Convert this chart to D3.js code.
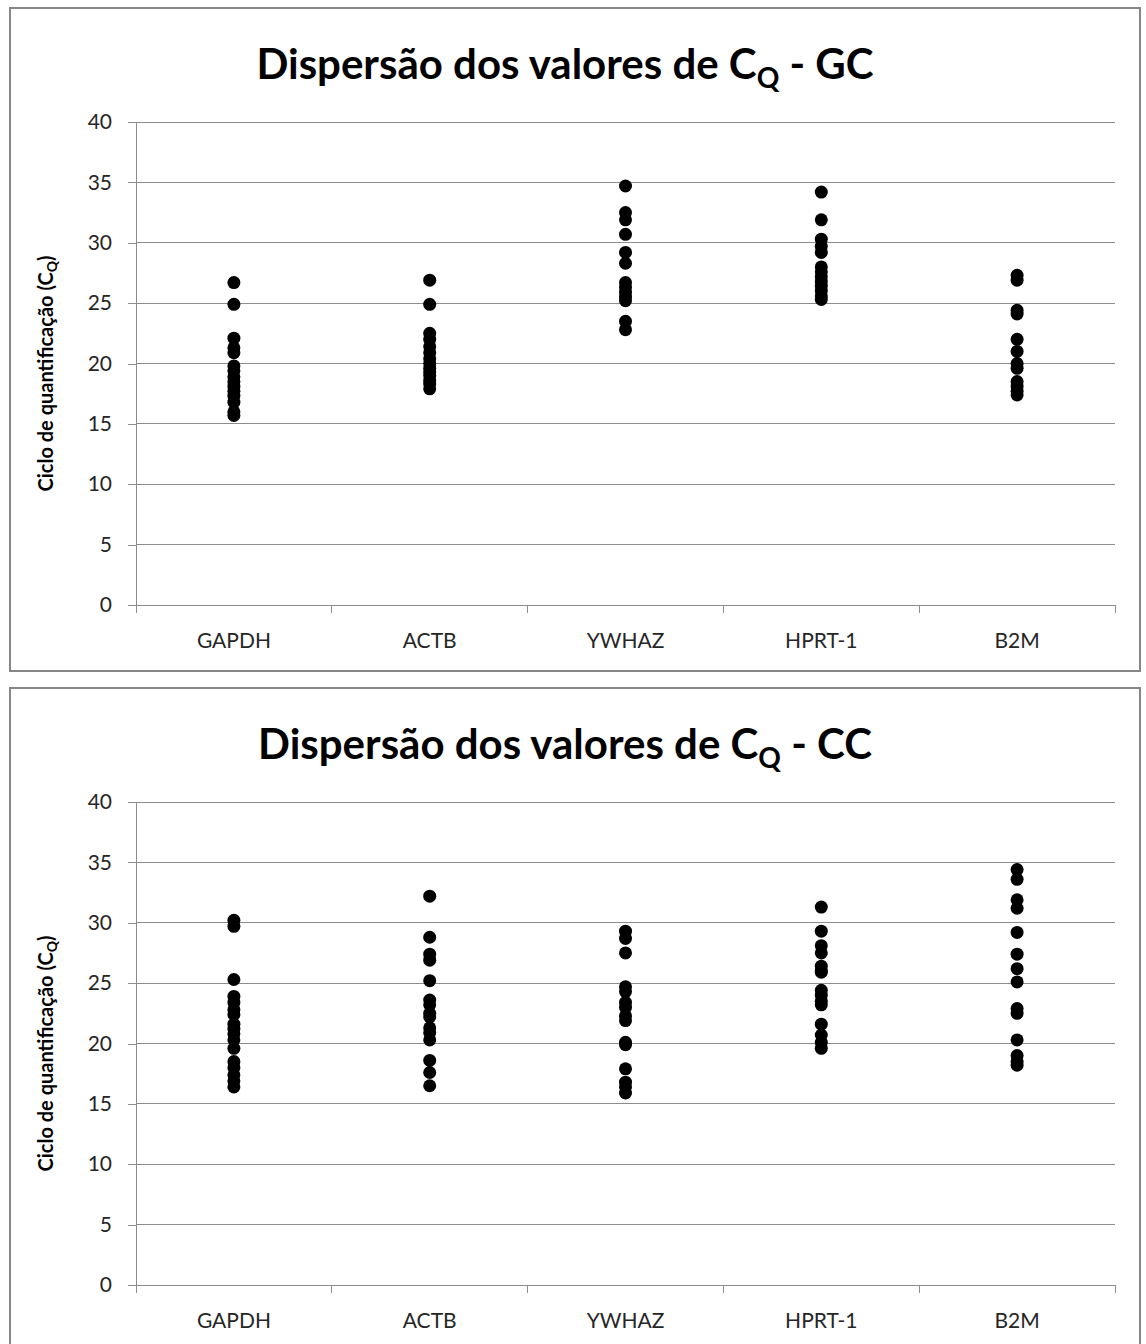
<!DOCTYPE html>
<html>
<head>
<meta charset="utf-8">
<script src="https://cdn.jsdelivr.net/npm/d3@7"></script>
<style>
  body { margin: 0; background: #fff; }
  svg { display: block; }
  text { font-family: Lato, "Open Sans", sans-serif; }
</style>
</head>
<body>
<svg id="chart" width="1146" height="1344"></svg>
<script>
// Reference genes on the x axis
const genes = ["GAPDH", "ACTB", "YWHAZ", "HPRT-1", "B2M"];
const yTicks = [0, 5, 10, 15, 20, 25, 30, 35, 40];

// Cq values, group GC
const gcGAPDH = [26.7, 24.9, 22.1, 21.3, 20.9, 19.8, 19.4, 18.9, 18.5, 18.1, 17.7, 17.3, 16.8, 16.0, 15.7];
const gcACTB  = [26.9, 24.9, 22.5, 22.0, 21.4, 20.9, 20.4, 20.0, 19.6, 19.3, 19.0, 18.6, 18.3, 17.9];
const gcYWHAZ = [34.7, 32.5, 31.9, 30.7, 29.2, 28.3, 26.7, 26.3, 25.9, 25.5, 25.2, 23.5, 22.8];
const gcHPRT1 = [34.2, 31.9, 30.3, 29.7, 29.2, 28.0, 27.6, 27.2, 26.8, 26.4, 26.0, 25.6, 25.3];
const gcB2M   = [27.3, 26.9, 24.4, 24.1, 22.0, 21.0, 20.0, 19.6, 18.5, 18.1, 17.7, 17.4];

// Cq values, group CC
const ccGAPDH = [30.2, 29.7, 25.3, 23.9, 23.4, 22.8, 22.4, 21.6, 21.2, 20.8, 20.3, 19.6, 18.5, 18.0, 17.4, 16.9, 16.4];
const ccACTB  = [32.2, 28.8, 27.4, 26.9, 25.2, 23.6, 23.2, 22.5, 22.2, 21.3, 20.9, 20.3, 18.6, 17.6, 16.5];
const ccYWHAZ = [29.3, 28.7, 27.5, 24.7, 24.3, 23.4, 23.0, 22.3, 21.9, 20.1, 19.9, 17.9, 16.8, 16.4, 15.9];
const ccHPRT1 = [31.3, 29.3, 28.1, 27.5, 26.4, 26.0, 25.9, 24.4, 24.0, 23.5, 23.2, 21.6, 20.7, 20.1, 19.6];
const ccB2M   = [34.4, 33.6, 31.9, 31.2, 29.2, 27.4, 26.2, 25.1, 22.9, 22.5, 20.3, 19.0, 18.5, 18.2];

const panels = [
  { suffix: " - GC", top: 8,   series: [gcGAPDH, gcACTB, gcYWHAZ, gcHPRT1, gcB2M] },
  { suffix: " - CC", top: 688, series: [ccGAPDH, ccACTB, ccYWHAZ, ccHPRT1, ccB2M] }
];

const svg = d3.select("#chart");
const W = 1130, H = 663;
const plot = { left: 136, right: 1115, top: 114, bottom: 597 };

panels.forEach(p => {
  const g = svg.append("g").attr("transform", `translate(10,${p.top})`);

  g.append("rect")
    .attr("x", 0).attr("y", 0).attr("width", W).attr("height", H)
    .attr("fill", "#fff").attr("stroke", "#868686").attr("stroke-width", 2);

  const x = d3.scaleBand().domain(genes).range([plot.left - 10, plot.right - 10]);
  const y = d3.scaleLinear().domain([0, 40]).range([plot.bottom, plot.top]);

  // gridlines
  g.append("g").selectAll("line").data(yTicks.filter(t => t > 0)).join("line")
    .attr("x1", plot.left - 10).attr("x2", plot.right - 10)
    .attr("y1", d => y(d)).attr("y2", d => y(d))
    .attr("stroke", "#8c8c8c").attr("stroke-width", 1).attr("shape-rendering", "crispEdges");

  // y axis
  const ya = g.append("g").attr("transform", `translate(${plot.left - 10},0)`)
    .call(d3.axisLeft(y).tickValues(yTicks).tickSize(8).tickPadding(16));
  ya.select(".domain").attr("stroke", "#8c8c8c").attr("shape-rendering", "crispEdges");
  ya.selectAll(".tick line").attr("stroke", "#8c8c8c").attr("shape-rendering", "crispEdges");
  ya.selectAll("text").attr("font-size", 21).attr("fill", "#262626")
    .attr("font-family", "Lato, sans-serif");

  // x axis
  const xa = g.append("g").attr("transform", `translate(0,${plot.bottom})`)
    .call(d3.axisBottom(x).tickSize(0).tickPadding(28));
  xa.select(".domain").attr("stroke", "#8c8c8c").attr("shape-rendering", "crispEdges");
  xa.selectAll("text").attr("font-size", 21).attr("fill", "#262626")
    .attr("font-family", "Lato, sans-serif");
  // category boundary ticks
  const bounds = genes.map(d => x(d)).concat([x(genes[genes.length - 1]) + x.bandwidth()]);
  xa.append("g").selectAll("line").data(bounds).join("line")
    .attr("x1", d => d).attr("x2", d => d).attr("y1", 0).attr("y2", 8)
    .attr("stroke", "#8c8c8c").attr("shape-rendering", "crispEdges");

  // points
  genes.forEach((gene, i) => {
    g.append("g").selectAll("circle").data(p.series[i]).join("circle")
      .attr("cx", x(gene) + x.bandwidth() / 2)
      .attr("cy", d => y(d))
      .attr("r", 6.5)
      .attr("fill", "#000");
  });

  // title
  const t = g.append("text")
    .attr("x", W / 2 - 10).attr("y", 71)
    .attr("text-anchor", "middle")
    .attr("font-size", 42).attr("font-weight", "bold").attr("fill", "#000");
  t.append("tspan").text("Dispersão dos valores de C");
  t.append("tspan").text("Q").attr("font-size", 28).attr("dy", 9);
  t.append("tspan").text(p.suffix).attr("dy", -9);

  // y axis title
  const yt = g.append("text")
    .attr("transform", `translate(43,${(plot.top + plot.bottom) / 2 + 10}) rotate(-90)`)
    .attr("text-anchor", "middle")
    .attr("font-size", 20).attr("font-weight", "bold").attr("fill", "#000");
  yt.append("tspan").text("Ciclo de quantificação (C");
  yt.append("tspan").text("Q").attr("font-size", 14).attr("dy", 4);
  yt.append("tspan").text(")").attr("dy", -4);
});
</script>
</body>
</html>
